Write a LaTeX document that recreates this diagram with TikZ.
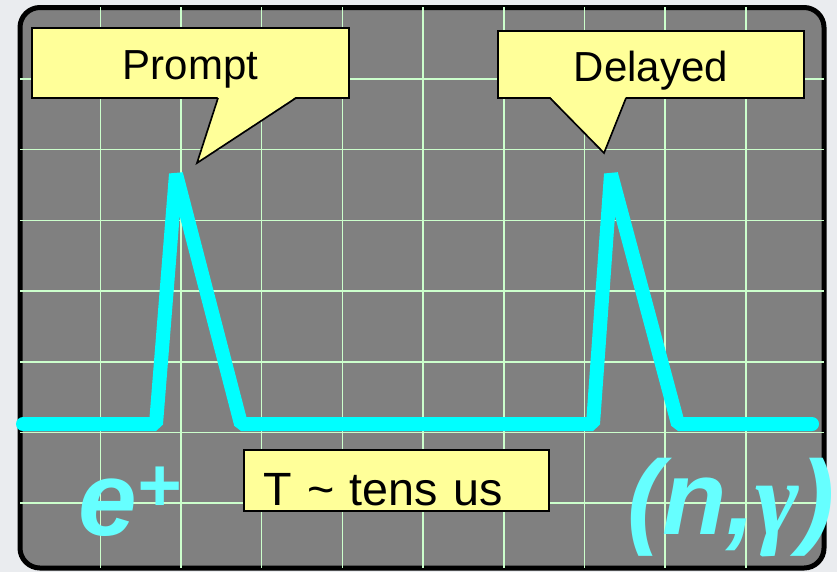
\documentclass[tikz,border=0pt]{standalone}
\usepackage{fontspec}
\setmainfont{Liberation Sans}
\newfontfamily\greekfont{Liberation Serif}
\usetikzlibrary{positioning}
\definecolor{backdrop}{RGB}{234,236,239}
\definecolor{screengray}{RGB}{128,128,128}
\definecolor{gridgreen}{RGB}{204,255,204}
\definecolor{tracecyan}{RGB}{0,255,255}
\definecolor{labelcyan}{RGB}{102,255,255}
\definecolor{noteyellow}{RGB}{255,255,153}

\begin{document}
\begin{tikzpicture}[x=0.75pt,y=-0.75pt,
		screen/.style={draw=black,fill=screengray,line width=3.75pt,rounded corners=15pt},
		gridline/.style={gridgreen,line width=1.1pt},
		trace/.style={tracecyan,line width=10.5pt,line cap=round,line join=bevel},
		note/.style={draw=black,fill=noteyellow,line width=1.25pt,inner sep=0pt,outer sep=0pt,
			font=\fontsize{31.5}{36}\selectfont,text height=25.2pt,text depth=0pt},
		pointerline/.style={draw=black,line width=1.25pt},
		bigtag/.style={labelcyan,inner sep=0pt,anchor=base west,
			font=\fontsize{79}{90}\selectfont\bfseries\itshape}]
	
	\useasboundingbox (0,0) rectangle (837,572);
	\fill[backdrop] (0,0) rectangle (837,572);
	
	% scope screen and graticule
	\draw[screen] (20,7.5) rectangle (824,568);
	\foreach \gx in {1,...,9}
		\draw[gridline] ({19.6+80.7*\gx},7) -- ({19.6+80.7*\gx},568);
	\foreach \gy in {1,...,7}
		\draw[gridline] (20,{8.3+70.7*\gy}) -- (824,{8.3+70.7*\gy});
	
	% signal
	\draw[trace] (23,424) -- (156,424) -- (176,174) -- (241,424) -- (593,424)
		-- (611,174) -- (678,424) -- (812,424);
	
	% callouts
	\node[note,minimum width=237.75pt,minimum height=52.5pt] (prompt) at (190.5,63) {Prompt};
	\coordinate (prompt tip) at (197,163);
	\path (prompt.south west) ++(186,0) coordinate (prompt l) ++(78,0) coordinate (prompt r);
	\fill[noteyellow] ([yshift=1pt]prompt l) -- (prompt tip) -- ([yshift=1pt]prompt r) -- cycle;
	\draw[pointerline] (prompt l) -- (prompt tip) -- (prompt r);
	
	\node[note,minimum width=229.5pt,minimum height=50.25pt] (delayed) at (651,64.5) {Delayed};
	\coordinate (delayed tip) at (604,153);
	\path (delayed.south west) ++(52,0) coordinate (delayed l) ++(76,0) coordinate (delayed r);
	\fill[noteyellow] ([yshift=1pt]delayed l) -- (delayed tip) -- ([yshift=1pt]delayed r) -- cycle;
	\draw[pointerline] (delayed l) -- (delayed tip) -- (delayed r);
	
	\node[note,minimum width=228.75pt,minimum height=45.75pt,text width=200.25pt,
		inner xsep=14.25pt,align=left,font=\fontsize{35}{40}\selectfont,text height=37.8pt]
		(gap) at (396.5,480.5) {T \textasciitilde{} tens us};
	
	% particle tags
	\node[bigtag] (positron) at (78,535) {e\raisebox{17.5pt}{\fontsize{57}{60}\selectfont +}};
	\node[bigtag] (capture) at (627,534) {(n,{\greekfont γ})};
\end{tikzpicture}
\end{document}
